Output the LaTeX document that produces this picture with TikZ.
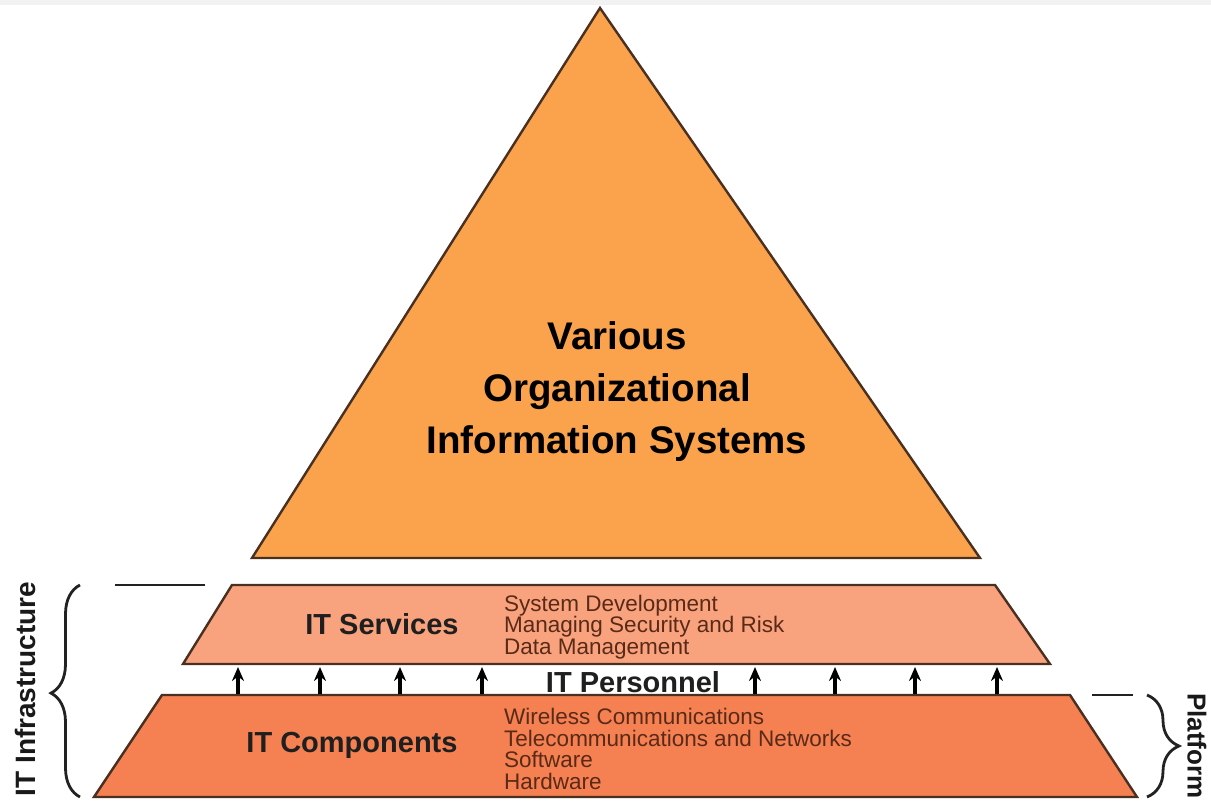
\documentclass[tikz,border=0pt]{standalone}
\usepackage{fontspec}
\setmainfont{Liberation Sans}
\usetikzlibrary{decorations.pathreplacing,arrows.meta}
\definecolor{tri}{HTML}{FAA34C}
\definecolor{serv}{HTML}{F9A37E}
\definecolor{comp}{HTML}{F58052}
\definecolor{edge}{HTML}{4A3020}
\definecolor{listc}{HTML}{5A2A18}
\definecolor{bracec}{HTML}{222222}
\begin{document}
\begin{tikzpicture}[x=1pt,y=-1pt,
  shapeline/.style={draw=edge,line width=2.4pt,line join=miter},
  biglabel/.style={font=\fontsize{38.5}{52}\selectfont\bfseries,align=center,text=black,inner sep=0pt},
  layerlabel/.style={font=\fontsize{29}{34}\selectfont\bfseries,text=black!88,inner sep=0pt},
  listtext/.style={font=\fontsize{22.5}{21.8}\selectfont,align=left,text=listc,anchor=west,inner sep=0pt},
  uparrow/.style={-{Stealth[length=14pt,width=12pt]},line width=3.2pt,black},
  sidelabel/.style={font=\fontsize{28}{32}\selectfont\bfseries,text=black!90,inner sep=0pt},
  bracestyle/.style={decorate,draw=bracec,line width=2.8pt},
  tick/.style={draw=bracec,line width=2.2pt}]
\path[use as bounding box,fill=white] (0,0) rectangle (1211,806);
\clip (0,0) rectangle (1211,806);
\fill[black!5] (0,0) rectangle (1211,5);

% triangle
\coordinate (apex) at (600,8);
\coordinate (tbl) at (252,558);
\coordinate (tbr) at (980,558);
\draw[shapeline,fill=tri] (apex) -- (tbr) -- (tbl) -- cycle;
\node[biglabel] (various) at (617,392) {Various\\Organizational\\Information Systems};

% IT services
\coordinate (stl) at (232,585);
\coordinate (str) at (995,585);
\coordinate (sbr) at (1050,664);
\coordinate (sbl) at (183,664);
\draw[shapeline,fill=serv] (stl) -- (str) -- (sbr) -- (sbl) -- cycle;
\node[layerlabel] (servlabel) at (382,624) {IT Services};
\node[listtext] (servlist) at (504,627) {System Development\\Managing Security and Risk\\Data Management};

% IT components
\coordinate (ctl) at (162,695);
\coordinate (ctr) at (1070,695);
\coordinate (cbr) at (1137,797);
\coordinate (cbl) at (94,797);
\draw[shapeline,fill=comp] (ctl) -- (ctr) -- (cbr) -- (cbl) -- cycle;
\node[layerlabel] (complabel) at (352,745) {IT Components};
\node[listtext] (complist) at (504,749) {Wireless Communications\\Telecommunications and Networks\\Software\\Hardware};

% IT personnel arrows
\coordinate (ctop) at (0,694);
\coordinate (sbot) at (0,667);
\foreach \x in {238,320,400,482,755,835,915,997}
  \draw[uparrow] (\x,0 |- ctop) -- (\x,0 |- sbot);
\node[layerlabel] (personnel) at (633,682) {IT Personnel};

% left brace: IT Infrastructure
\coordinate (lbt) at (80,585);
\coordinate (lbb) at (80,797);
\coordinate (ltick1) at (115,585);
\coordinate (ltick2) at (205,585);
\draw[tick] (ltick1) -- (ltick2);
\draw[bracestyle,decoration={brace,amplitude=29pt,aspect=0.49}] (lbb) -- (lbt);
\node[sidelabel,rotate=90] (infra) at (25,689) {IT Infrastructure};

% right brace: Platform
\coordinate (rbt) at (1147,695);
\coordinate (rbb) at (1147,797);
\coordinate (rtick1) at (1092,695);
\coordinate (rtick2) at (1133,695);
\draw[tick] (rtick1) -- (rtick2);
\draw[bracestyle,decoration={brace,amplitude=32pt}] (rbt) -- (rbb);
\node[sidelabel,rotate=-90,font=\fontsize{26}{30}\selectfont\bfseries] (platform) at (1197,746) {Platform};
\end{tikzpicture}
\end{document}
